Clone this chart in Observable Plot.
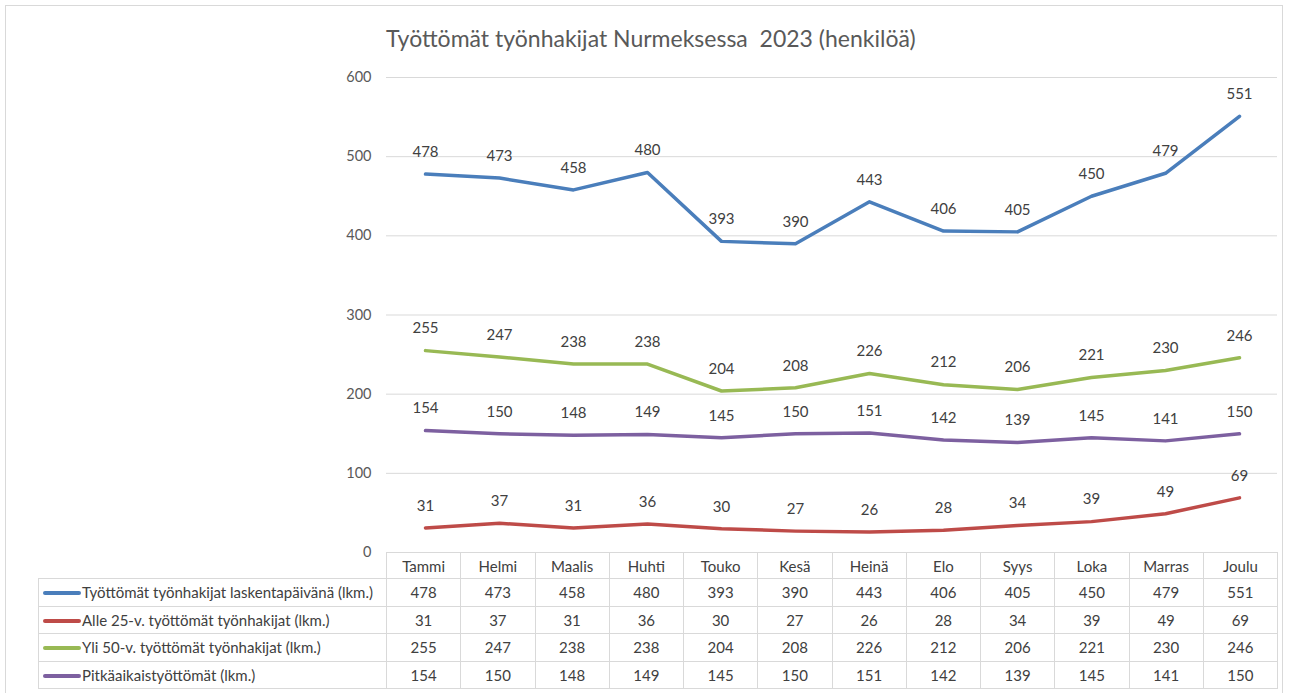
<!DOCTYPE html>
<html><head><meta charset="utf-8">
<script src="https://cdn.jsdelivr.net/npm/d3@7"></script>
<script src="https://cdn.jsdelivr.net/npm/@observablehq/plot@0.6"></script>
<style>
html,body{margin:0;padding:0;background:#fff;font-family:Lato,"Open Sans",sans-serif;}
#frame{position:absolute;left:5px;top:5px;width:1278px;height:720px;border:1px solid #d9d9d9;box-sizing:border-box;}
#title{position:absolute;left:386px;top:24px;font-size:23px;color:#595959;white-space:pre;}
#chart{position:absolute;left:0;top:0;}
#tbl{position:absolute;left:38px;top:552px;border-collapse:collapse;table-layout:fixed;font-size:15px;color:#404040;}
#tbl td{border:1px solid #d9d9d9;text-align:center;padding:0;white-space:nowrap;overflow:hidden;}
#tbl td.lab{text-align:left;padding-left:4px;}
#tbl td.blank{border:none;}
.key{display:inline-block;width:38px;height:4px;border-radius:2px;vertical-align:middle;margin-right:1px;position:relative;top:-1px;}
</style></head><body>
<div id="frame"></div>
<div id="title"></div>
<div id="chart"></div>
<table id="tbl"></table>
<script>
const title = "Työttömät työnhakijat Nurmeksessa  2023 (henkilöä)";
const months = ["Tammi","Helmi","Maalis","Huhti","Touko","Kesä","Heinä","Elo","Syys","Loka","Marras","Joulu"];
const seriesNames = [
  "Työttömät työnhakijat laskentapäivänä (lkm.)",
  "Alle 25-v. työttömät työnhakijat (lkm.)",
  "Yli 50-v. työttömät työnhakijat (lkm.)",
  "Pitkäaikaistyöttömät (lkm.)"
];
const totalValues = [478,473,458,480,393,390,443,406,405,450,479,551];
const under25Values = [31,37,31,36,30,27,26,28,34,39,49,69];
const over50Values = [255,247,238,238,204,208,226,212,206,221,230,246];
const longTermValues = [154,150,148,149,145,150,151,142,139,145,141,150];
const seriesColors = ["#4a7ebb","#be4b48","#98b954","#7d60a0"];
const yTicks = [0,100,200,300,400,500,600];

const seriesValues = [totalValues, under25Values, over50Values, longTermValues];
const data = [];
seriesNames.forEach((s, i) => months.forEach((m, j) => data.push({series: s, month: m, value: seriesValues[i][j]})));

document.getElementById("title").textContent = title;

const chart = Plot.plot({
  width: 1295, height: 560,
  marginLeft: 386, marginRight: 18, marginTop: 77, marginBottom: 8,
  style: {background: "transparent", fontFamily: "Lato, 'Open Sans', sans-serif"},
  x: {type: "point", domain: months, padding: 0.5, axis: null},
  y: {domain: [0, 600], axis: null},
  color: {domain: seriesNames, range: seriesColors},
  marks: [
    Plot.gridY(yTicks, {stroke: "#d9d9d9", strokeOpacity: 1, strokeWidth: 1}),
    Plot.axisY(yTicks, {tickSize: 0, tickPadding: 15, fontSize: 14.5, fill: "#595959", tickFormat: d => String(d), label: null}),
    Plot.line(data, {x: "month", y: "value", z: "series", stroke: "series", strokeWidth: 3.5, strokeLinejoin: "round", strokeLinecap: "round"}),
    Plot.text(data, {x: "month", y: "value", text: d => String(d.value), dy: -22, fontSize: 15, fill: "#404040"})
  ]
});
document.getElementById("chart").appendChild(chart);

// data table
const tbl = document.getElementById("tbl");
const colgroup = document.createElement("colgroup");
const c0 = document.createElement("col"); c0.style.width = "348px"; colgroup.appendChild(c0);
months.forEach(() => { const c = document.createElement("col"); c.style.width = "74.25px"; colgroup.appendChild(c); });
tbl.appendChild(colgroup);
const head = document.createElement("tr");
head.style.height = "26px";
const blank = document.createElement("td"); blank.className = "blank"; head.appendChild(blank);
months.forEach(m => { const td = document.createElement("td"); td.textContent = m; head.appendChild(td); });
tbl.appendChild(head);
seriesNames.forEach((s, i) => {
  const tr = document.createElement("tr");
  tr.style.height = "27.5px";
  const lab = document.createElement("td"); lab.className = "lab";
  const key = document.createElement("span"); key.className = "key"; key.style.background = seriesColors[i];
  lab.appendChild(key); lab.appendChild(document.createTextNode(s));
  tr.appendChild(lab);
  seriesValues[i].forEach(v => { const td = document.createElement("td"); td.textContent = v; tr.appendChild(td); });
  tbl.appendChild(tr);
});
</script>
</body></html>
